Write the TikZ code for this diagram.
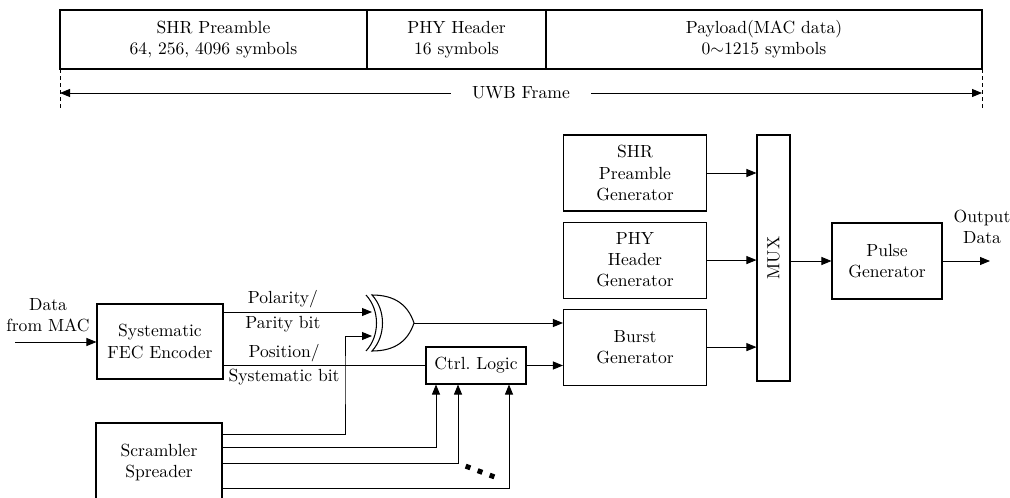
\documentclass[tikz,border=0pt]{standalone}
\usepackage{amsmath}
\usepackage{tikz}
\usetikzlibrary{arrows.meta,positioning}

\begin{document}
\begin{tikzpicture}[
      field_node/.style={
         rectangle,
         draw=black,
         line width=0.6pt,
         outer sep=0pt,
         align=center,
         minimum height=1.18cm},
      block_node/.style={
         rectangle,
         draw=black,
         line width=0.6pt,
         align=center,
         inner sep=2pt,
         minimum width=2.86cm,
         minimum height=1.52cm},
      dot_node/.style={
         rectangle,
         fill=black,
         rotate=-20,
         inner sep=0pt,
         minimum size=0.1cm},
      arrow_black/.style={
         -{Triangle[length=2mm,width=1.6mm]},
         line width=0.5pt},
      line_plain/.style={
         line width=0.5pt},
      bit_label/.style={
         inner sep=2pt}
]
      \useasboundingbox (0,0) rectangle (20.2,-9.96);

      %frame
      \node[field_node,minimum width=6.14cm] (shr) at (4.27,-0.79) {SHR Preamble\\64, 256, 4096 symbols};
      \node[field_node,minimum width=3.58cm,right=0pt of shr] (phy) {PHY Header\\16 symbols};
      \node[field_node,minimum width=8.72cm,right=0pt of phy] (pay) {Payload(MAC data)\\0$\sim$1215 symbols};

      \coordinate (fl) at ([yshift=-0.82cm]shr.south west);
      \coordinate (fr) at ([yshift=-0.82cm]pay.south east);
      \draw[line_plain,dash pattern=on 2pt off 2pt] (shr.south west) -- (fl);
      \draw[line_plain,dash pattern=on 2pt off 2pt] (pay.south east) -- (fr);

      \node[inner xsep=0.42cm] (uwb) at (10.42,-1.86) {UWB Frame};
      \draw[arrow_black] (uwb.west) -- (uwb.west -| shr.west);
      \draw[arrow_black] (uwb.east) -- (uwb.east -| pay.east);

      %transmitter
      \node[block_node] (shrgen) at (12.7,-3.46) {SHR\\Preamble\\Generator};
      \node[block_node,below=0.2cm of shrgen] (phygen) {PHY\\Header\\Generator};
      \node[block_node,below=0.2cm of phygen] (burst) {Burst\\Generator};

      \node[draw,line width=0.6pt,minimum width=0.66cm,minimum height=4.92cm,
            label={[rotate=90]center:MUX}] (mux) at (15.47,-5.16) {};

      \node[block_node,minimum width=2.2cm] (pulse) at (17.74,-5.22) {Pulse\\Generator};
      \node[align=center] (outtxt) at (19.64,-4.54) {Output\\Data};
      \coordinate (out) at (19.8,-5.22);

      \node[block_node,minimum width=2.52cm,minimum height=1.5cm] (fec) at (3.2,-6.83) {Systematic\\FEC Encoder};
      \node[block_node,minimum width=2.52cm,minimum height=1.58cm] (scr) at (3.18,-9.25) {Scrambler\\Spreader};
      \node[block_node,minimum width=2cm,minimum height=0.74cm] (ctrl) at (9.52,-7.31) {Ctrl.\ Logic};

      \node[align=center] (mac) at (0.96,-6.31) {Data\\from MAC};
      \coordinate (in) at (0.3,-6.84);

      %xor gate
      \coordinate (xin1) at (7.44,-6.24);
      \coordinate (xin2) at (7.44,-6.72);
      \coordinate (xout) at (8.28,-6.46);
      \draw[line width=0.6pt] (7.44,-5.9) .. controls (7.9,-5.9) and (8.16,-6.1) .. (xout)
            .. controls (8.16,-6.82) and (7.9,-7.02) .. (7.44,-7.02)
            .. controls (7.72,-6.72) and (7.72,-6.2) .. cycle;
      \draw[line width=0.6pt] (7.32,-5.9) .. controls (7.6,-6.2) and (7.6,-6.72) .. (7.32,-7.02);

      %more lines
      \foreach \x/\y [count=\k] in {9.36/-9.34, 9.6/-9.43, 9.84/-9.52}
        \node[dot_node] (dot\k) at (\x,\y) {};

      \draw[arrow_black] (in) -- (fec.west |- in);
      \draw[arrow_black] (fec.east |- xin1) -- node[pos=0.4,above,bit_label] {Polarity/} node[pos=0.4,below,bit_label] {Parity bit} (xin1);
      \draw[line_plain] (fec.east |- ctrl.west) -- node[pos=0.3,above,bit_label] {Position/} node[pos=0.3,below,bit_label] {Systematic bit} (ctrl.west);

      \draw[arrow_black] (scr.east |- 0,-8.68) -| (6.9,-7.5) |- (xin2);
      \foreach \y/\dx in {-8.94/-0.8, -9.26/-0.36, -9.76/0.66}% scrambler outputs
        \draw[arrow_black] (scr.east |- 0,\y) -| ([xshift=\dx cm]ctrl.south);

      \draw[arrow_black] (xout) -- (xout -| burst.west);
      \draw[arrow_black] (ctrl.east) -- (ctrl.east -| burst.west);

      \foreach \i in {shrgen,phygen,burst}
        \draw[arrow_black] (\i.east) -- (\i.east -| mux.west);

      \draw[arrow_black] (mux.east |- pulse.west) -- (pulse.west);
      \draw[arrow_black] (pulse.east) -- (out);

\end{tikzpicture}
\end{document}
